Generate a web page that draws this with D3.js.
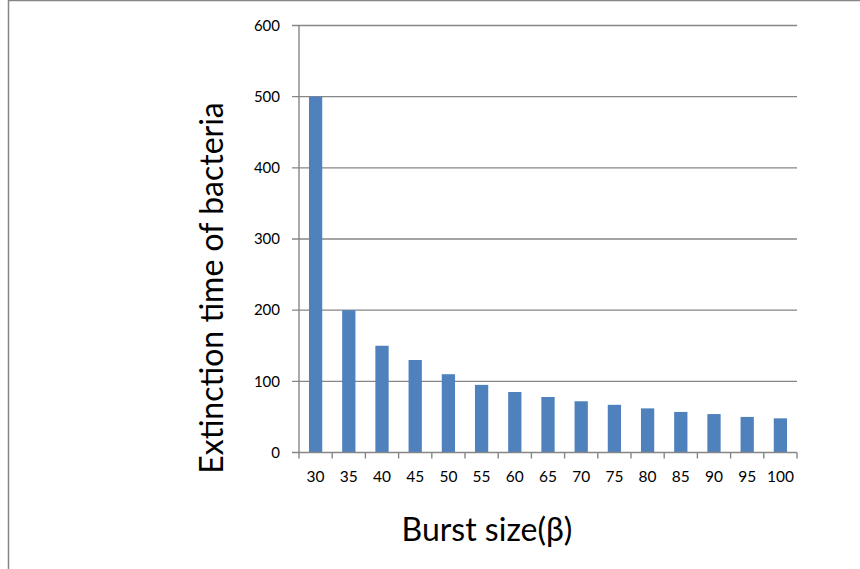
<!DOCTYPE html>
<html>
<head>
<meta charset="utf-8">
<script src="https://cdn.jsdelivr.net/npm/d3@7"></script>
<style>
  html, body { margin: 0; padding: 0; background: #fff; }
  svg { display: block; }
</style>
</head>
<body>
<svg id="chart" width="860" height="569"></svg>
<script>
// Burst size (β) categories and bacterial extinction times
const burstSizes = ["30", "35", "40", "45", "50", "55", "60", "65", "70", "75", "80", "85", "90", "95", "100"];
const extinctionTimes = [500, 200, 150, 130, 110, 95, 85, 78, 72, 67, 62, 57, 54, 50, 48];
const yTicks = [0, 100, 200, 300, 400, 500, 600];

const svg = d3.select("#chart");
const W = 860, H = 569;
const plot = { left: 299, right: 797, top: 25.5, bottom: 452.5 };
const gridColor = "#868686";
const tickFont = "Lato, 'Open Sans', sans-serif";

// Outer frame (top and left edges visible)
svg.append("line").attr("x1", 8.5).attr("x2", W).attr("y1", 0.5).attr("y2", 0.5)
  .attr("stroke", gridColor).attr("stroke-width", 1.5);
svg.append("line").attr("x1", 8.5).attr("x2", 8.5).attr("y1", 0).attr("y2", H)
  .attr("stroke", gridColor).attr("stroke-width", 1.5);

const x = d3.scaleBand().domain(burstSizes).range([plot.left, plot.right])
  .paddingInner(0.6).paddingOuter(0.3);
const xOuter = d3.scaleBand().domain(burstSizes).range([plot.left, plot.right]);
const y = d3.scaleLinear().domain([0, 600]).range([plot.bottom, plot.top]);

// Horizontal gridlines with outward tick stubs
svg.append("g").selectAll("line").data(yTicks.filter(d => d > 0)).join("line")
  .attr("x1", plot.left - 7).attr("x2", plot.right)
  .attr("y1", d => y(d)).attr("y2", d => y(d))
  .attr("stroke", gridColor).attr("stroke-width", 1.4);

// Y tick labels
svg.append("g").selectAll("text").data(yTicks).join("text")
  .attr("x", plot.left - 19).attr("y", d => y(d))
  .attr("dy", "0.35em").attr("text-anchor", "end")
  .attr("font-family", tickFont).attr("font-size", 15).attr("fill", "#000")
  .text(d => d);

// Bars
svg.append("g").selectAll("rect").data(burstSizes).join("rect")
  .attr("x", d => x(d)).attr("width", x.bandwidth())
  .attr("y", (d, i) => y(extinctionTimes[i]))
  .attr("height", (d, i) => y(0) - y(extinctionTimes[i]))
  .attr("fill", "#4F81BD");

// Y axis line
svg.append("line").attr("x1", plot.left).attr("x2", plot.left)
  .attr("y1", plot.top).attr("y2", plot.bottom)
  .attr("stroke", gridColor).attr("stroke-width", 1.4);

// X axis line, category boundary ticks
svg.append("line").attr("x1", plot.left - 7).attr("x2", plot.right)
  .attr("y1", plot.bottom).attr("y2", plot.bottom)
  .attr("stroke", gridColor).attr("stroke-width", 1.4);
const boundaries = burstSizes.map(d => xOuter(d)).concat([plot.right]);
svg.append("g").selectAll("line").data(boundaries).join("line")
  .attr("x1", d => d).attr("x2", d => d)
  .attr("y1", plot.bottom).attr("y2", plot.bottom + 6)
  .attr("stroke", gridColor).attr("stroke-width", 1.4);

// X tick labels
svg.append("g").selectAll("text").data(burstSizes).join("text")
  .attr("x", d => xOuter(d) + xOuter.bandwidth() / 2).attr("y", 482)
  .attr("text-anchor", "middle")
  .attr("font-family", tickFont).attr("font-size", 15.5).attr("fill", "#000")
  .text(d => d);

// Axis titles
svg.append("text").attr("x", 487).attr("y", 541).attr("text-anchor", "middle")
  .attr("font-family", tickFont).attr("font-size", 32).attr("fill", "#000")
  .text("Burst size(β)");
svg.append("text").attr("transform", "translate(223,288) rotate(-90)")
  .attr("text-anchor", "middle")
  .attr("font-family", tickFont).attr("font-size", 32).attr("fill", "#000")
  .text("Extinction time of bacteria");
</script>
</body>
</html>
